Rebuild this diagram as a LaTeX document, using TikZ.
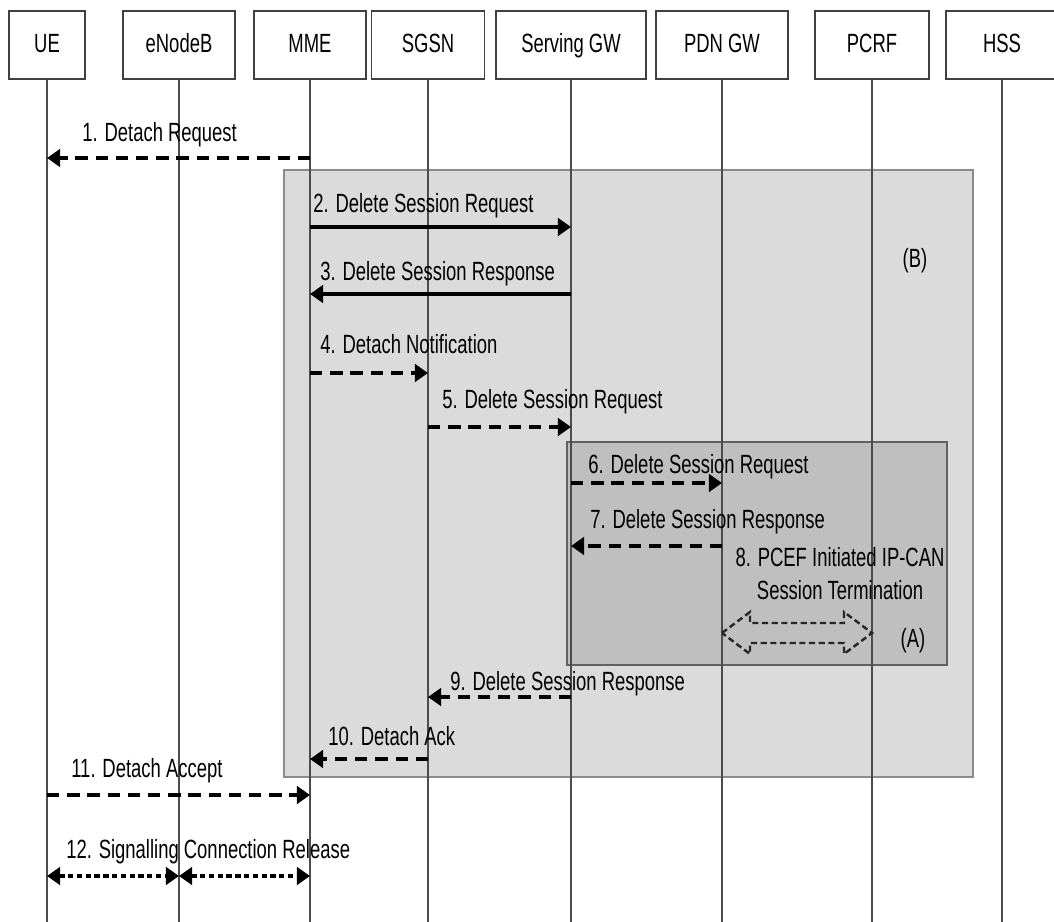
\documentclass[tikz,border=0pt]{standalone}
\usepackage{fontspec}
\setmainfont{Liberation Sans}[FakeStretch=0.70]
\usetikzlibrary{arrows.meta,calc}

\tikzset{
  txt/.style={font=\fontsize{15pt}{18.8pt}\selectfont},
  entity/.style={txt, draw=black!75, line width=1.1pt, fill=white, minimum height=1.36cm, inner sep=0pt, text height=11pt, text depth=3pt},
  life/.style={draw=black!70, line width=0.9pt},
  msg/.style={line width=2.2pt, -{Triangle[length=7.5pt,width=10pt]}},
  dmsg/.style={msg, line width=2.6pt, dash pattern=on 7pt off 4.5pt},
  dotmsg/.style={msg, line width=2.6pt, {Triangle[length=7.5pt,width=10pt]}-{Triangle[length=7.5pt,width=10pt]}, dash pattern=on 3pt off 2pt},
  lbl/.style={txt, anchor=base west, inner sep=0pt},
  grpB/.style={fill=black!14, draw=black!45, line width=1.1pt},
  grpA/.style={fill=black!25, draw=black!62, line width=1.1pt},
  blockarr/.style={draw=black!85, line width=1.4pt, dash pattern=on 3.5pt off 2pt},
}

\begin{document}
\begin{tikzpicture}[x=0.02cm,y=-0.02cm]
\useasboundingbox (0,0) rectangle (1054,922);

\node[entity, minimum width=1.52cm] (ue) at (47,45) {UE};
\node[entity, minimum width=2.24cm] (enb) at (179,45) {eNodeB};
\node[entity, minimum width=2.24cm] (mme) at (310,45) {MME};
\node[entity, minimum width=2.26cm] (sgsn) at (428,45) {SGSN};
\node[entity, minimum width=3.0cm] (sgw) at (571,45) {Serving GW};
\node[entity, minimum width=2.64cm] (pgw) at (722,45) {PDN GW};
\node[entity, minimum width=2.28cm] (pcrf) at (872,45) {PCRF};
\node[entity, minimum width=2.24cm] (hss) at (1002,45) {HSS};

\draw[grpB] (284,170) rectangle (973,777);
\draw[grpA] (567,442) rectangle (947,665);
\node[lbl, anchor=base] (tagB) at (915,267) {(B)};
\node[lbl, anchor=base] (tagA) at (913,647) {(A)};

\draw[life] (ue) -- (ue |- 0,922);
\draw[life] (enb) -- (enb |- 0,922);
\draw[life] (mme) -- (mme |- 0,922);
\draw[life] (sgsn) -- (sgsn |- 0,922);
\draw[life] (sgw) -- (sgw |- 0,922);
\draw[life] (pgw) -- (pgw |- 0,922);
\draw[life] (pcrf) -- (pcrf |- 0,922);
\draw[life] (hss) -- (hss |- 0,922);

\draw[dmsg] (mme |- 0,158) -- (ue |- 0,158);
\node[lbl] (m1) at (82,142) {1. Detach Request};
\draw[msg] (mme |- 0,227) -- (sgw |- 0,227);
\node[lbl] (m2) at (313,213) {2. Delete Session Request};
\draw[msg] (sgw |- 0,294) -- (mme |- 0,294);
\node[lbl] (m3) at (320,280) {3. Delete Session Response};
\draw[dmsg] (mme |- 0,373) -- (sgsn |- 0,373);
\node[lbl] (m4) at (320,353) {4. Detach Notification};
\draw[dmsg] (sgsn |- 0,427) -- (sgw |- 0,427);
\node[lbl] (m5) at (442,408) {5. Delete Session Request};
\draw[dmsg] (sgw |- 0,483) -- (pgw |- 0,483);
\node[lbl] (m6) at (588,473) {6. Delete Session Request};
\draw[dmsg] (pgw |- 0,546) -- (sgw |- 0,546);
\node[lbl] (m7) at (590,528) {7. Delete Session Response};

\node[txt, anchor=north, inner sep=0pt, align=center] (m8) at (840,547) {8. PCEF Initiated IP-CAN\\Session Termination};
\coordinate (aL) at (pgw |- 0,633);
\coordinate (aR) at (pcrf |- 0,633);
\draw[blockarr] (aL) -- ++(28,-21) -- ++(0,11) -- ($(aR)+(-28,-10)$) -- ++(0,-11) -- (aR)
  -- ++(-28,21) -- ++(0,-11) -- ($(aL)+(28,10)$) -- ++(0,11) -- cycle;

\draw[dmsg] (sgw |- 0,697) -- (sgsn |- 0,697);
\node[lbl] (m9) at (450,690) {9. Delete Session Response};
\draw[dmsg] (sgsn |- 0,759) -- (mme |- 0,759);
\node[lbl] (m10) at (328,745) {10. Detach Ack};
\draw[dmsg] (ue |- 0,795) -- (mme |- 0,795);
\node[lbl] (m11) at (71,777) {11. Detach Accept};
\draw[dotmsg] (ue |- 0,876) -- (enb |- 0,876);
\draw[dotmsg] (enb |- 0,876) -- (mme |- 0,876);
\node[lbl] (m12) at (66,858) {12. Signalling Connection Release};
\end{tikzpicture}
\end{document}
